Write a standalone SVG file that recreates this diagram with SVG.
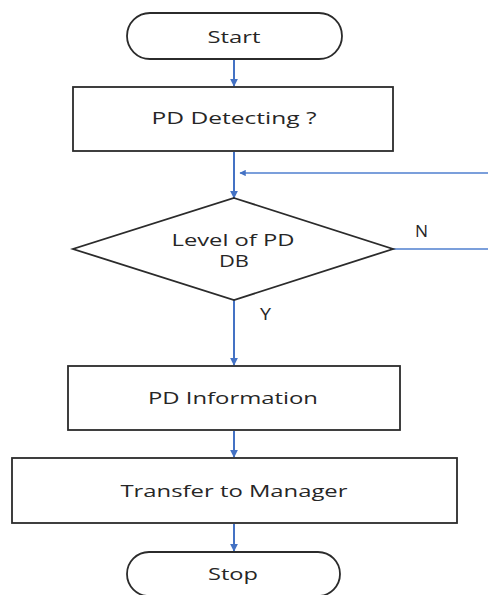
<svg xmlns="http://www.w3.org/2000/svg" width="488" height="595" viewBox="0 0 488 595">
  <style>
    .shape { fill: #ffffff; stroke: #2b2b2b; stroke-width: 1.8; }
    .lbl { font-family: "Open Sans", "Noto Sans", "Liberation Sans", sans-serif; font-size: 15.5px; fill: #262626; }
    .flow { stroke: #4472c4; stroke-width: 2; fill: none; }
    .loop { stroke: #4f7fcf; stroke-width: 1.6; fill: none; }
  </style>
  <defs>
    <marker id="arrow" viewBox="0 0 10 10" refX="9" refY="5" markerWidth="4" markerHeight="4" orient="auto" markerUnits="strokeWidth">
      <path d="M0,0 L10,5 L0,10 z" fill="#4472c4"/>
    </marker>
  </defs>

  <g id="connectors">
    <line class="flow" x1="234" y1="59" x2="234" y2="86" marker-end="url(#arrow)"/>
    <line class="flow" x1="234" y1="152" x2="234" y2="198" marker-end="url(#arrow)"/>
    <line class="loop" x1="488" y1="173" x2="240" y2="173" marker-end="url(#arrow)"/>
    <line class="loop" x1="393" y1="249" x2="488" y2="249"/>
    <line class="flow" x1="234" y1="300" x2="234" y2="365" marker-end="url(#arrow)"/>
    <line class="flow" x1="234" y1="431" x2="234" y2="457" marker-end="url(#arrow)"/>
    <line class="flow" x1="234" y1="524" x2="234" y2="551" marker-end="url(#arrow)"/>
    <text class="lbl" x="415" y="237" textLength="13" lengthAdjust="spacingAndGlyphs">N</text>
    <text class="lbl" x="260" y="320" textLength="11" lengthAdjust="spacingAndGlyphs">Y</text>
  </g>

  <g id="start">
    <rect class="shape" x="127" y="13" width="215" height="46" rx="23" ry="23"/>
    <text class="lbl" x="234" y="43" text-anchor="middle" textLength="53" lengthAdjust="spacingAndGlyphs">Start</text>
  </g>

  <g id="pd-detecting">
    <rect class="shape" x="73" y="87" width="320" height="64"/>
    <text class="lbl" x="234" y="124" text-anchor="middle" textLength="165" lengthAdjust="spacingAndGlyphs">PD Detecting ?</text>
  </g>

  <g id="level-check">
    <polygon class="shape" points="234,198 393,249 234,300 73,249"/>
    <text class="lbl" x="233" y="246" text-anchor="middle" textLength="123" lengthAdjust="spacingAndGlyphs">Level of PD</text>
    <text class="lbl" x="234" y="267" text-anchor="middle" textLength="30" lengthAdjust="spacingAndGlyphs">DB</text>
  </g>

  <g id="pd-information">
    <rect class="shape" x="68" y="366" width="332" height="64"/>
    <text class="lbl" x="233" y="404" text-anchor="middle" textLength="170" lengthAdjust="spacingAndGlyphs">PD Information</text>
  </g>

  <g id="transfer">
    <rect class="shape" x="12" y="458" width="445" height="65"/>
    <text class="lbl" x="234" y="497" text-anchor="middle" textLength="227" lengthAdjust="spacingAndGlyphs">Transfer to Manager</text>
  </g>

  <g id="stop">
    <rect class="shape" x="127" y="552" width="213" height="44" rx="22" ry="22"/>
    <text class="lbl" x="233" y="580" text-anchor="middle" textLength="50" lengthAdjust="spacingAndGlyphs">Stop</text>
  </g>
</svg>
